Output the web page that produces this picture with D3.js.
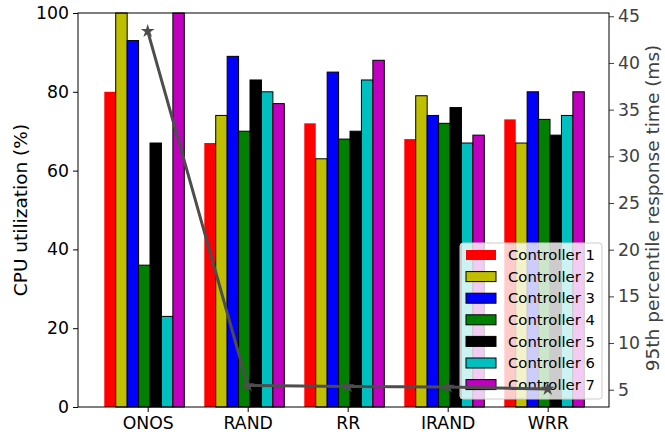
<!DOCTYPE html>
<html>
<head>
<meta charset="utf-8">
<script src="https://cdn.jsdelivr.net/npm/d3@7"></script>
<style>
  body { margin: 0; background: #fff; }
  svg text { font-family: "DejaVu Sans", sans-serif; }
</style>
</head>
<body>
<script>
// data
var schemes = ["ONOS", "RAND", "RR", "IRAND", "WRR"];
var controllers = ["Controller 1", "Controller 2", "Controller 3", "Controller 4",
                   "Controller 5", "Controller 6", "Controller 7"];
var cpuC1 = [80, 67, 72, 68, 73];
var cpuC2 = [100, 74, 63, 79, 67];
var cpuC3 = [93, 89, 85, 74, 80];
var cpuC4 = [36, 70, 68, 72, 73];
var cpuC5 = [67, 83, 70, 76, 69];
var cpuC6 = [23, 80, 83, 67, 74];
var cpuC7 = [100, 77, 88, 69, 80];
var resp95 = [43.4, 5.45, 5.35, 5.3, 5.07];
var leftTicks = [0, 20, 40, 60, 80, 100];
var rightTicks = [5, 10, 15, 20, 25, 30, 35, 40, 45];

var cpu = [cpuC1, cpuC2, cpuC3, cpuC4, cpuC5, cpuC6, cpuC7];
var colors = ["#ff0000", "#bfbf00", "#0000ff", "#008000", "#000000", "#00bfbf", "#bf00bf"];

var W = 665, H = 438;
var margin = {left: 78, right: 56, top: 13, bottom: 31};
var pw = W - margin.left - margin.right;
var ph = H - margin.top - margin.bottom;

var svg = d3.select("body").append("svg")
  .attr("width", W).attr("height", H);

var g = svg.append("g")
  .attr("transform", "translate(" + margin.left + "," + margin.top + ")");

var x = d3.scaleLinear().domain([-0.663, 4.647]).range([0, pw]);
var y = d3.scaleLinear().domain([0, 100]).range([ph, 0]);
var y2 = d3.scaleLinear().domain([3.15, 45.35]).range([ph, 0]);

var bw = 0.8 / 7;
var tickOff = 0.034;

// bars
cpu.forEach(function(series, j) {
  g.selectAll("rect.c" + j)
    .data(series)
    .enter().append("rect")
    .attr("class", "c" + j)
    .attr("x", function(d, i) { return x(i - 0.4 + j * bw); })
    .attr("width", x(bw) - x(0))
    .attr("y", function(d) { return y(d); })
    .attr("height", function(d) { return ph - y(d); })
    .attr("fill", colors[j])
    .attr("stroke", j == 0 ? "none" : "#000")
    .attr("stroke-width", 1);
});

// axes
var xAxis = d3.axisBottom(x)
  .tickValues(schemes.map(function(d, i) { return i + tickOff; }))
  .tickFormat(function(d, i) { return schemes[i]; })
  .tickSizeOuter(0).tickSize(5).tickPadding(5);
var gx = g.append("g").attr("transform", "translate(0," + ph + ")").call(xAxis);

var gy = g.append("g").call(d3.axisLeft(y).tickValues(leftTicks).tickSize(5).tickPadding(4).tickSizeOuter(0));

var gy2 = g.append("g").attr("transform", "translate(" + pw + ",0)")
  .call(d3.axisRight(y2).tickValues(rightTicks).tickSize(5).tickPadding(4).tickSizeOuter(0));

[gx, gy, gy2].forEach(function(a) {
  a.select(".domain").remove();
  a.selectAll("text").style("font-size", "17.3px").attr("fill", "#000");
  a.selectAll("line").attr("stroke", "#000");
});
gy2.selectAll("text").attr("fill", "#404040");
gy2.selectAll("line").attr("stroke", "#404040");

// frame
g.append("rect")
  .attr("width", pw).attr("height", ph)
  .attr("fill", "none").attr("stroke", "#000").attr("stroke-width", 1);

// axis labels
svg.append("text")
  .attr("transform", "translate(27," + (margin.top + ph / 2) + ") rotate(-90)")
  .attr("text-anchor", "middle")
  .style("font-size", "18.5px")
  .text("CPU utilization (%)");

svg.append("text")
  .attr("transform", "translate(659," + (margin.top + ph / 2 - 2) + ") rotate(-90)")
  .attr("text-anchor", "middle")
  .style("font-size", "18.5px")
  .attr("fill", "#404040")
  .text("95th percentile response time (ms)");

// legend
var lg = g.append("g").attr("transform", "translate(" + (460 - margin.left) + "," + (243 - margin.top) + ")");
lg.append("rect")
  .attr("width", 142).attr("height", 156).attr("rx", 3)
  .attr("fill", "#fff").attr("fill-opacity", 0.8)
  .attr("stroke", "#ccc").attr("stroke-width", 1);
controllers.forEach(function(name, j) {
  var row = lg.append("g").attr("transform", "translate(0," + (12 + j * 21.6) + ")");
  row.append("rect")
    .attr("x", 6).attr("y", -5).attr("width", 30).attr("height", 10)
    .attr("fill", colors[j])
    .attr("stroke", j == 0 ? "none" : "#000");
  row.append("text")
    .attr("x", 48).attr("dy", "0.35em")
    .style("font-size", "14.8px")
    .text(name);
});

// response time line
var line = d3.line()
  .x(function(d, i) { return x(i + tickOff); })
  .y(function(d) { return y2(d); });

g.append("path")
  .attr("d", line(resp95))
  .attr("fill", "none")
  .attr("stroke", "#4d4d4d")
  .attr("stroke-width", 3);

g.selectAll("path.star")
  .data(resp95)
  .enter().append("path")
  .attr("class", "star")
  .attr("d", d3.symbol().type(d3.symbolStar).size(60))
  .attr("transform", function(d, i) { return "translate(" + x(i + tickOff) + "," + y2(d) + ")"; })
  .attr("fill", "#4d4d4d");
</script>
</body>
</html>
